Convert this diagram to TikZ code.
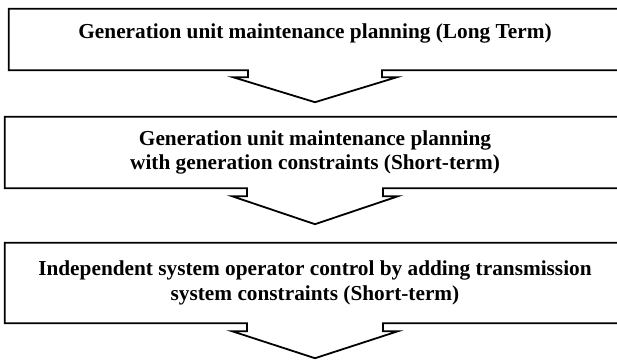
\documentclass[tikz,border=0pt]{standalone}
\usepackage{fontspec}
\setmainfont{Liberation Serif}
\usetikzlibrary{calc}

\begin{document}
\begin{tikzpicture}[x=1pt,y=-1pt,
  stage/.style={align=center,inner sep=0pt,font=\bfseries\fontsize{21.3}{24.5}\selectfont},
  outline/.style={line width=1.8pt,line join=miter}]
\useasboundingbox (0,0) rectangle (617,359);
%\draw[red] (0,0) rectangle (617,359);
\node[stage,minimum width=612,minimum height=61,text depth=17.5pt](Long) at (315,39.5){Generation unit maintenance planning (Long Term)};
\node[stage,minimum width=620,minimum height=71](Short) at (315,152.5){Generation unit maintenance planning\\ with generation constraints (Short-term)};
\node[stage,minimum width=620,minimum height=80](ISO) at (315,283){Independent system operator control by adding transmission\\ system constraints (Short-term)};

% right sides run off the page
\draw[outline] ($(Long.south)+(-67,0)$) -- (Long.south west) -- (Long.north west) -- ($(Long.north east)+(15,0)$) -- ($(Long.south east)+(15,0)$) -- ($(Long.south)+(67,0)$) -- ++(0,7) -- ++(15,0) -- ($(Long.south)+(0,32)$) -- ($(Long.south)+(-82,7)$) -- ++(15,0) -- cycle;
\draw[outline] ($(Short.south)+(-68,0)$) -- (Short.south west) -- (Short.north west) -- ($(Short.north east)+(15,0)$) -- ($(Short.south east)+(15,0)$) -- ($(Short.south)+(68,0)$) -- ++(0,8) -- ++(15,0) -- ($(Short.south)+(0,36)$) -- ($(Short.south)+(-83,8)$) -- ++(15,0) -- cycle;
\draw[outline] ($(ISO.south)+(-68,0)$) -- (ISO.south west) -- (ISO.north west) -- ($(ISO.north east)+(15,0)$) -- ($(ISO.south east)+(15,0)$) -- ($(ISO.south)+(68,0)$) -- ++(0,8) -- ++(15,0) -- ($(ISO.south)+(0,35)$) -- ($(ISO.south)+(-83,8)$) -- ++(15,0) -- cycle;

\end{tikzpicture}
\end{document}
